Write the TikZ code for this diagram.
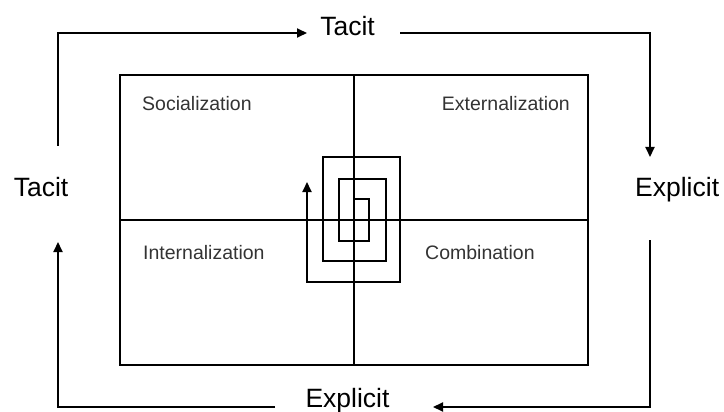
\documentclass[tikz,border=0pt]{standalone}
\usepackage{fontspec}
\setmainfont{Liberation Sans}
\usetikzlibrary{arrows.meta, calc, positioning}
\tikzset
{%
big/.style={font=\fontsize{26.5}{30}\selectfont, inner sep=0pt},
mode/.style={font=\fontsize{19.5}{22}\selectfont, text=black!80, inner sep=0pt},
line/.style={line width=1.8pt},
flow/.style={line width=2pt, -{Triangle[length=10pt, width=9pt]}}
}

\begin{document}
\begin{tikzpicture}[x=1pt, y=-1pt]
	\useasboundingbox (0,0) rectangle (724,412);
	
		% THE FOUR MODES
		\node[draw, line, minimum width=468pt, minimum height=290pt, inner sep=0pt] (box) at (354,220) {};
		\draw[line] (box.north) -- (box.south) (box.west) -- (box.east);
		\node[mode, anchor=base west] (soc) at (142,111) {Socialization};
		\node[mode, anchor=base east] (ext) at (570,111) {Externalization};
		\node[mode, anchor=base west] (int) at (143,259) {Internalization};
		\node[mode, anchor=base west] (com) at (425,259) {Combination};
		
		% SPIRAL
		\coordinate (s0) at ($(box.center) + (0,-21)$);
		\draw[flow, line width=1.8pt, -{Triangle[length=10pt, width=9pt]}] (s0)
			-- ++(15,0) -- ++(0,42) -- ++(-30,0) -- ++(0,-62)
			-- ++(47,0) -- ++(0,82) -- ++(-63,0) -- ++(0,-104)
			-- ++(77,0) -- ++(0,125) -- ++(-93,0) -- ++(0,-100);
		
		% OUTER CYCLE
		\node[big] (ttop) at (347.5,26.5) {Tacit};
		\node[big] (tleft) at (41,187) {Tacit};
		\node[big, anchor=base west] (eright) at (635,196.5) {Explicit};
		\node[big, anchor=base] (ebot) at (347.5,407) {Explicit};
		
		\coordinate (tl) at (58,146);
		\coordinate (tlend) at (307,33);
		\coordinate (tr) at (400,33);
		\coordinate (trend) at (650,157);
		\coordinate (br) at (650,240);
		\coordinate (brend) at (433,407);
		\coordinate (bl) at (275,407);
		\coordinate (blend) at (58,242);
		
		\draw[flow] (tl) |- (tlend);
		\draw[flow] (tr) -| (trend);
		\draw[flow] (br) |- (brend);
		\draw[flow] (bl) -| (blend);
	\end{tikzpicture}
\end{document}
